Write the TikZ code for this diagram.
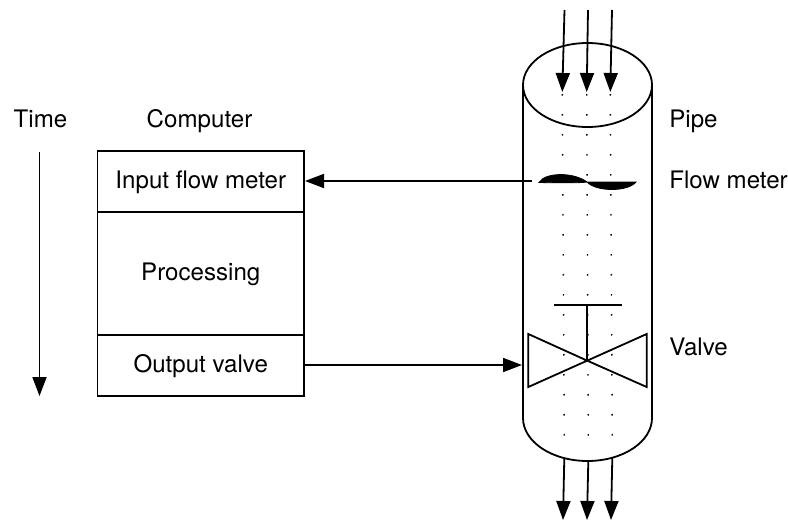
\documentclass[tikz,border=0pt]{standalone}
\usepackage{fontspec}
\setmainfont{TeX Gyre Heros}
\usetikzlibrary{positioning,arrows.meta}

\begin{document}
\begin{tikzpicture}[
    x=1pt, y=-1pt,
    font=\fontsize{24.1}{28}\selectfont,
    line width=1.8pt,
    node distance=0pt,
    txt/.style  ={inner sep=0pt, text height=17pt, text depth=4pt},
    box/.style  ={txt, draw, outer sep=0pt,
                  minimum width=206.5pt, align=center},
    lab/.style  ={txt, anchor=west},
    arr/.style  ={-{Triangle[length=19pt,width=14pt]}},
    flow/.style ={line width=1.4pt, dash pattern=on 1.5pt off 18.5pt},
]
\useasboundingbox (0,0) rectangle (788,520);

% =========================================================
% Left column: time and computer stages
% =========================================================
\node[txt] (time) at (40.5,120.5) {Time};
\node[txt] (comp) at (199.5,120.5) {Computer};

\coordinate (timetop) at (39.5,152);
\coordinate (timeend) at (39.5,396);
\draw[arr] (timetop) -- (timeend);

\node[box, minimum height=61pt] (meter) at (200.75,181.5) {Input flow meter};
\node[box, minimum height=123pt, below=of meter] (proc) {Processing};
\node[box, minimum height=61pt, below=of proc] (valve) {Output valve};

% =========================================================
% Pipe with flow lines
% =========================================================
\coordinate (pipetl) at (523,85);
\coordinate (pipetr) at (652,85);
\draw (587.5,85) ellipse [x radius=64.5, y radius=42];
\draw (pipetl) -- (523,418) arc[start angle=180, end angle=0, x radius=64.5, y radius=43]
    -- (pipetr);

\foreach \xa/\xb/\xc/\xd/\ya in {564.5/562.3/564.3/563/458, 588/586.7/588.3/587/461, 612/610.3/612.3/611/458} {
    \draw[arr] (\xa,10) -- (\xb,92);
    \draw[flow] (\xb,94) -- (\xc,436);
    \draw[arr] (\xc,\ya) -- (\xd,520);
}

% =========================================================
% Flow meter and valve inside the pipe
% =========================================================
\filldraw[line width=0.8pt] (539,182.5) .. controls (545,172) and (574,172) .. (587,182)
    .. controls (596,192) and (628,192) .. (636,182) -- (587,182)
    .. controls (582,183) and (560,183) .. (539,182.5) -- cycle;
\coordinate (sensor) at (531.5,181);
\draw[arr, shorten >=1pt] (sensor) -- (meter.east |- sensor);

\coordinate (vmid) at (587.3,360.7);
\draw[line join=miter] (vmid) -- (528.3,334) -- (528.3,387) -- (646.7,334) -- (646.7,387) -- cycle;
\draw (vmid) -- (587.3,305);
\draw (554,305) -- (622,305);
\coordinate (actuator) at (522,365);
\draw[arr, shorten <=1pt] (valve.east |- actuator) -- (actuator);

% =========================================================
% Right column: labels
% =========================================================
\node[lab] (pipelab) at (668.5,120.5) {Pipe};
\node[lab] (flowlab) at (668.5,181.5) {Flow meter};
\node[lab] (vallab) at (668.5,348.5) {Valve};

\end{tikzpicture}
\end{document}
